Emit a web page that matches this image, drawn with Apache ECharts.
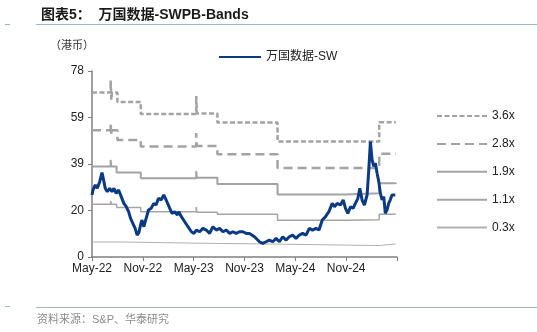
<!DOCTYPE html>
<html>
<head>
<meta charset="utf-8">
<script src="https://cdn.jsdelivr.net/npm/echarts@6/dist/echarts.min.js"></script>
<style>
html,body{margin:0;padding:0;background:#fff;}
#chart{width:537px;height:332px;}
</style>
</head>
<body>
<div id="chart"></div>
<script>
// x values are months since May 2022 (0 = May-22)
const xTickLabels = ['May-22', 'Nov-22', 'May-23', 'Nov-23', 'May-24', 'Nov-24', ''];

const priceT = [0,0.12,0.39,0.62,0.91,1.18,1.41,1.56,1.80,2.08,2.35,2.59,2.86,3.14,3.45,3.76,4.04,4.32,4.55,4.82,5.09,5.33,5.53,5.73,5.88,6.12,6.39,6.67,6.98,7.29,7.56,7.85,8.15,8.47,8.74,8.91,9.18,9.45,9.76,10.08,10.24,10.55,10.94,11.33,11.73,12.04,12.32,12.71,13.09,13.49,13.88,14.27,14.67,15.06,15.45,15.85,16.24,16.62,17.02,17.41,17.80,18.20,18.59,19.18,19.76,20.15,20.55,20.94,21.33,21.73,22.12,22.51,22.91,23.29,23.68,24.08,24.47,24.86,25.26,25.65,26.04,26.44,26.79,27.18,27.56,27.96,28.35,28.62,28.94,29.33,29.65,29.92,30.20,30.51,30.82,31.09,31.38,31.61,31.88,32.15,32.47,32.67,32.86,33.06,33.26,33.45,33.65,33.85,34.04,34.24,34.44,34.62,34.82,35.02,35.21,35.41,35.61,35.80];
const priceV = [26.0,28.1,30.2,28.8,31.6,35.4,31.6,28.8,27.4,28.8,27.4,28.8,26.7,28.1,25.3,22.5,21.1,19.0,16.2,14.1,12.0,9.2,10.2,13.4,15.5,12.7,16.2,19.7,20.4,22.5,21.8,24.6,23.9,26.0,24.0,23.2,20.4,18.3,19.0,17.6,19.0,16.9,14.8,12.7,10.6,9.9,11.3,10.6,12.0,11.3,9.9,12.7,11.3,12.0,10.6,11.3,9.9,10.6,9.9,10.6,10.6,9.9,9.9,8.5,6.4,5.7,6.4,7.1,6.4,7.8,6.4,8.5,7.1,8.5,9.2,7.8,9.2,9.9,9.2,12.0,11.3,12.0,11.3,15.5,16.9,19.0,22.5,21.1,22.5,21.8,23.9,20.4,18.3,21.1,20.4,22.5,24.6,28.8,23.9,21.8,26.0,36.5,48.4,40.7,38.0,39.3,35.1,31.6,26.7,24.0,25.3,18.3,19.7,22.5,24.0,26.0,26.7,26.0];

// PB band step points: [month, value]
const band36 = [[0,69.0],[2.2,74.0],[2.28,66.0],[2.36,69.0],[3.0,65.0],[5.76,60.0],[12.3,67.5],[12.38,60.2],[14.8,56.4],[21.9,48.4],[33.9,56.5],[35.85,56.5]];
const band28 = [[0,53.2],[2.2,56.3],[2.28,51.0],[2.36,53.2],[3.0,49.1],[5.76,46.3],[12.3,52.0],[12.38,46.5],[14.8,43.1],[21.9,37.3],[33.9,43.3],[35.85,43.3]];
const band19 = [[0,37.9],[2.2,40.7],[2.28,37.9],[2.9,35.4],[5.76,33.0],[12.3,36.0],[12.38,33.2],[14.8,30.6],[21.9,26.2],[29.9,26.7],[33.9,30.9],[35.85,30.6]];
const band11 = [[0,22.1],[2.2,23.5],[2.28,22.1],[2.9,20.8],[5.76,19.0],[12.3,21.0],[12.38,18.8],[14.8,17.9],[21.9,15.4],[29.9,15.6],[33.9,17.9],[35.85,17.8]];
const band03 = [[0,6.3],[1.3,6.6],[1.5,6.3],[3.3,5.8],[12.3,5.4],[21.9,4.8],[33.9,5.5],[35.85,5.4]];

const seriesName = '万国数据-SW';
const bandNames = ['3.6x', '2.8x', '1.9x', '1.1x', '0.3x'];

const FONT = '"Liberation Sans", Arial, "Noto Sans CJK SC", sans-serif';
const chart = echarts.init(document.getElementById('chart'), null, {renderer: 'canvas'});

function band(name, data, color, width, type) {
  return {
    name: name, type: 'line', data: data, step: 'end', symbol: 'none',
    lineStyle: {color: color, width: width, type: type},
    itemStyle: {color: color}, z: 2, silent: true, animation: false
  };
}

const hiddenSymbol = {color: 'rgba(0,0,0,0)', borderColor: 'rgba(0,0,0,0)', borderWidth: 0, opacity: 0};

const option = {
  animation: false,
  title: {
    text: '图表5：  万国数据-SWPB-Bands',
    left: 36, top: 3,
    textStyle: {fontSize: 14, fontWeight: 'bold', color: '#1a1a1a', fontFamily: FONT}
  },
  graphic: [
    {type: 'line', shape: {x1: 36, y1: 24.5, x2: 537, y2: 24.5}, style: {stroke: '#9fb3cf', lineWidth: 1}},
    {type: 'line', shape: {x1: 5, y1: 24.5, x2: 10, y2: 24.5}, style: {stroke: '#9fb3cf', lineWidth: 1}},
    {type: 'line', shape: {x1: 36, y1: 307.5, x2: 537, y2: 307.5}, style: {stroke: '#9fb3cf', lineWidth: 1}},
    {type: 'line', shape: {x1: 5, y1: 306.5, x2: 10, y2: 306.5}, style: {stroke: '#9fb3cf', lineWidth: 1}},
    {type: 'text', left: 37, top: 314, style: {text: '资料来源：S&P、华泰研究', fill: '#8c8c8c', fontSize: 11, fontFamily: FONT}},
    {type: 'text', left: 50, top: 40, style: {text: '（港币）', fill: '#333', fontSize: 11, fontFamily: FONT}}
  ],
  grid: {left: 92, right: 140, top: 71, bottom: 75, containLabel: false},
  legend: [
    {
      data: [seriesName], left: 218, top: 51, padding: 0, itemWidth: 42, itemHeight: 12,
      itemStyle: hiddenSymbol,
      textStyle: {fontSize: 12, color: '#222', fontFamily: FONT}
    },
    {
      data: bandNames, orient: 'vertical', left: 436, top: 110, padding: 0,
      itemWidth: 50, itemHeight: 14, itemGap: 15.9,
      itemStyle: hiddenSymbol,
      textStyle: {fontSize: 12, color: '#222', fontFamily: FONT}
    }
  ],
  xAxis: {
    type: 'value', min: 0, max: 36, interval: 6,
    axisLine: {lineStyle: {color: '#808080', width: 1.5}},
    axisTick: {show: true, length: 4, lineStyle: {color: '#808080', width: 1}},
    axisLabel: {
      fontSize: 12, color: '#222', fontFamily: FONT, margin: 6,
      formatter: function (v) { return xTickLabels[Math.round(v / 6)] || ''; }
    },
    splitLine: {show: false}
  },
  yAxis: {
    type: 'value', min: 0, max: 78, interval: 19.5,
    axisLine: {show: true, lineStyle: {color: '#808080', width: 1.5}},
    axisTick: {show: true, length: 4, lineStyle: {color: '#808080', width: 1}},
    axisLabel: {
      fontSize: 12, color: '#222', fontFamily: FONT, margin: 8,
      formatter: function (v) { return String(Math.round(v)); }
    },
    splitLine: {show: false}
  },
  series: [
    {
      name: seriesName, type: 'line', symbol: 'none',
      data: priceT.map((t, i) => [t, priceV[i]]),
      lineStyle: {color: '#0b3a85', width: 3},
      itemStyle: {color: '#0b3a85'}, z: 5
    },
    band(bandNames[0], band36, '#a3a3a3', 2.5, [5, 2.5]),
    band(bandNames[1], band28, '#a3a3a3', 2.5, [9, 5]),
    band(bandNames[2], band19, '#a3a3a3', 2, 'solid'),
    band(bandNames[3], band11, '#a6a6a6', 1.5, 'solid'),
    band(bandNames[4], band03, '#b0b0b0', 1, 'solid')
  ]
};
chart.setOption(option);
</script>
</body>
</html>
